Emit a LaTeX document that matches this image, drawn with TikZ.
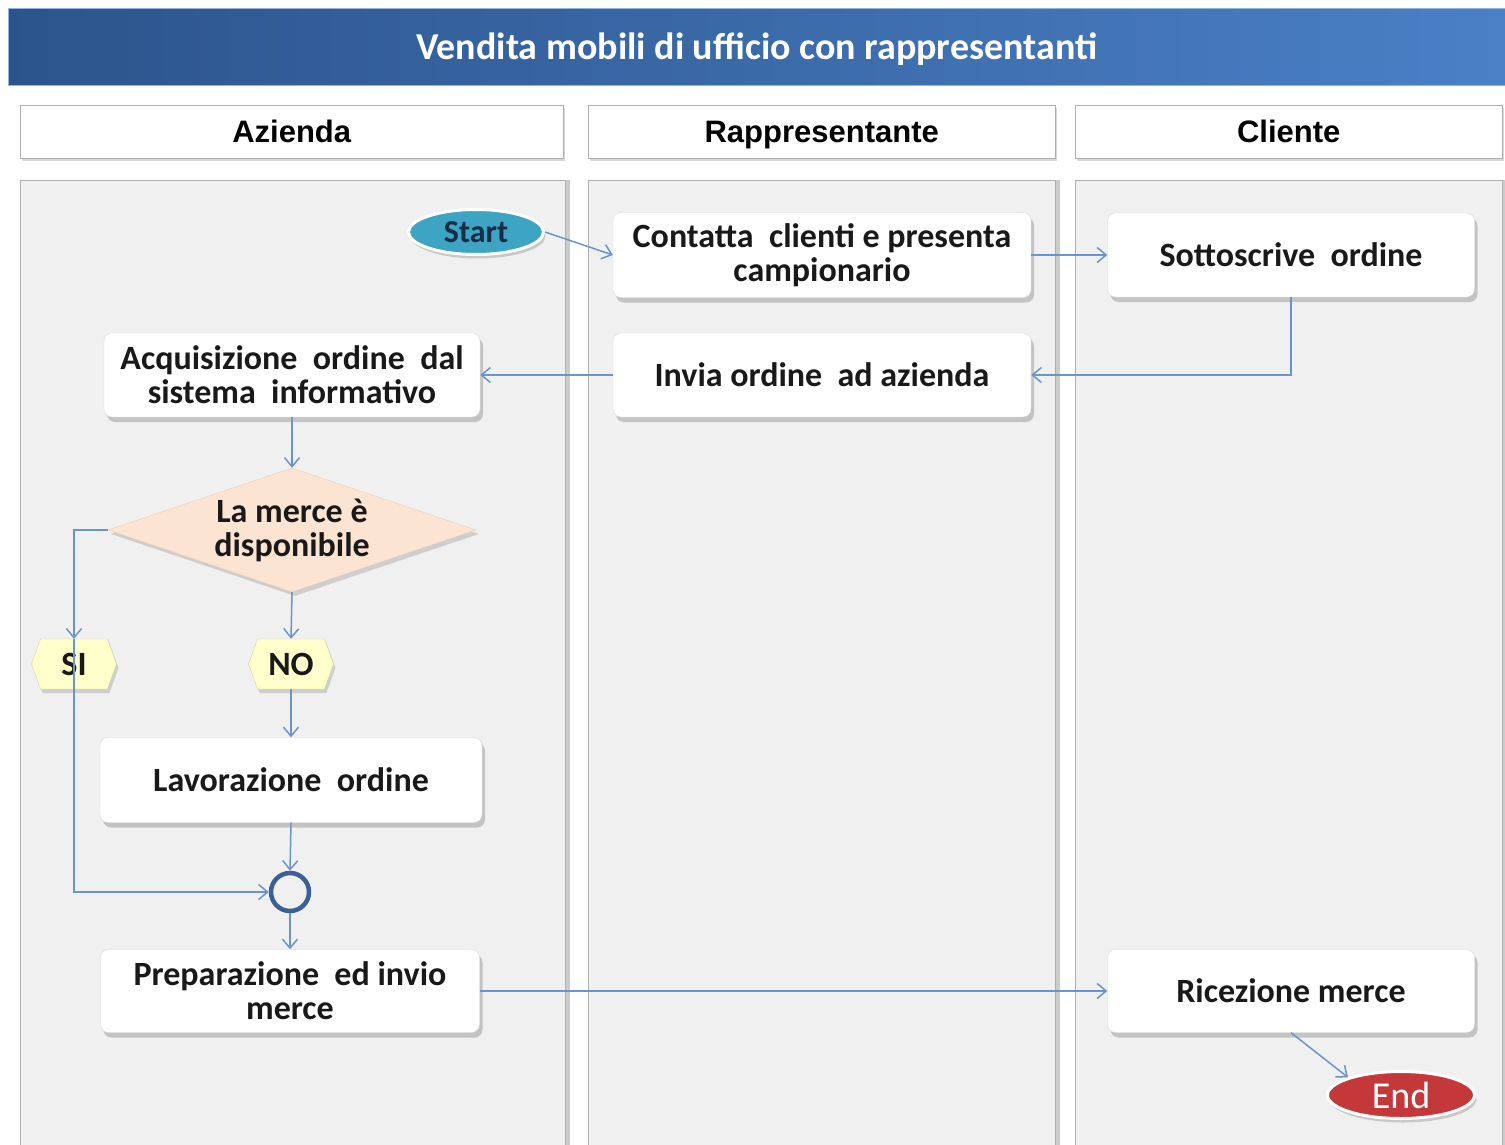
\documentclass[tikz,border=0pt]{standalone}
\usepackage{fontspec}
\setmainfont{Carlito}
\newfontfamily\headfont{Liberation Sans}
\usetikzlibrary{arrows.meta, shadows, shapes.geometric, shapes.symbols}

\definecolor{titleleft}{RGB}{44,84,140}
\definecolor{titleright}{RGB}{74,128,198}
\definecolor{lanefill}{RGB}{240,240,240}
\definecolor{laneline}{RGB}{175,175,175}
\definecolor{flowblue}{RGB}{108,148,204}
\definecolor{startfill}{RGB}{62,164,196}
\definecolor{startink}{RGB}{24,44,72}
\definecolor{endfill}{RGB}{196,56,58}
\definecolor{decfill}{RGB}{252,228,210}
\definecolor{decline}{RGB}{236,204,184}
\definecolor{tagfill}{RGB}{255,255,204}
\definecolor{tagline}{RGB}{215,215,150}
\definecolor{mergeblue}{RGB}{58,96,150}

\begin{document}
\begin{tikzpicture}
  [x=1pt, y=-1pt,
   titlebar/.style={rectangle, anchor=north west, minimum width=1497, minimum height=77,
                    left color=titleleft, right color=titleright, draw=titleright!60!white,
                    text height=26, text depth=0,
                    text=white, font=\bfseries\fontsize{38}{38}\selectfont},
   lanehead/.style={rectangle, anchor=north west, minimum height=53, draw=laneline,
                    fill=white, text height=22, text depth=0,
                    drop shadow={shadow xshift=2pt, shadow yshift=-3pt, opacity=.3},
                    font=\headfont\bfseries\fontsize{31}{31}\selectfont},
   lane/.style={rectangle, anchor=north west, minimum height=980, draw=laneline, fill=lanefill,
                drop shadow={shadow xshift=5pt, shadow yshift=0pt, opacity=.4}},
   box/.style={rectangle, rounded corners=8, draw=black!15, fill=white, align=center,
               inner sep=0, text=black!90,
               drop shadow={shadow xshift=3pt, shadow yshift=-5pt, opacity=.4},
               font=\bfseries\fontsize{34}{34}\selectfont},
   terminal/.style={ellipse, draw=white, line width=3, inner sep=0,
                    drop shadow={shadow xshift=2pt, shadow yshift=-4pt, opacity=.35}},
   decision/.style={diamond, aspect=3, draw=decline, fill=decfill, inner sep=0, align=center,
                    minimum width=368, minimum height=124, text=black!90,
                    drop shadow={shadow xshift=3pt, shadow yshift=-4pt, opacity=.3},
                    font=\bfseries\fontsize{34}{34}\selectfont},
   tag/.style={signal, signal to=west and east, signal pointer angle=140, draw=tagline,
               fill=tagfill, minimum width=85, minimum height=50, inner sep=0, text=black!90,
               drop shadow={shadow xshift=2pt, shadow yshift=-4pt, opacity=.3},
               font=\bfseries\fontsize{34}{34}\selectfont},
   flow/.style={draw=flowblue, line width=1.5, -{Straight Barb[length=9pt, width=15pt]}}]

  \useasboundingbox [fill=white] (0,0) rectangle (1505,1145);

  % Titolo e corsie
  \node (title) at (8,8) [titlebar] {Vendita mobili di ufficio con rappresentanti};
  \node (headA) at (20,105) [lanehead, minimum width=543] {Azienda};
  \node (headR) at (588,105) [lanehead, minimum width=467] {Rappresentante};
  \node (headC) at (1075,105) [lanehead, minimum width=427] {Cliente};
  \node (laneA) at (20,180) [lane, minimum width=545] {};
  \node (laneR) at (588,180) [lane, minimum width=467] {};
  \node (laneC) at (1075,180) [lane, minimum width=427] {};

  % Nodi
  \node (start) at (476,232) [terminal, fill=startfill, minimum width=135, minimum height=45,
        text=startink, font=\bfseries\fontsize{32}{32}\selectfont] {Start};
  \node (contatta) at (822,255) [box, minimum width=418, minimum height=85]
        {Contatta\ \ clienti e presenta\\campionario};
  \node (sottoscrive) at (1291,255) [box, minimum width=367, minimum height=84]
        {Sottoscrive\ \ ordine};
  \node (invia) at (822,375) [box, minimum width=418, minimum height=84]
        {Invia ordine\ \ ad azienda};
  \node (acquisizione) at (292,375) [box, minimum width=376, minimum height=84]
        {Acquisizione\ \ ordine\ \ dal\\sistema\ \ informativo};
  \node (disp) at (292,530) [decision] {La merce è\\disponibile};
  \node (si) at (74,664) [tag] {SI};
  \node (no) at (291,664) [tag] {NO};
  \node (lavorazione) at (291,780) [box, minimum width=382, minimum height=85]
        {Lavorazione\ \ ordine};
  \node (merge) at (290,892) [circle, draw=mergeblue, line width=4.5, minimum size=38, inner sep=0] {};
  \node (preparazione) at (290,991) [box, minimum width=379, minimum height=83]
        {Preparazione\ \ ed invio\\merce};
  \node (ricezione) at (1291,991) [box, minimum width=367, minimum height=83]
        {Ricezione merce};
  \node (fine) at (1401,1095) [terminal, fill=endfill, minimum width=147, minimum height=47,
        text=white, font=\fontsize{38}{38}\selectfont] {End};

  % Collegamenti
  \draw [flow] (start.east) -- (contatta.west);
  \draw [flow] (contatta.east) -- (sottoscrive.west);
  \draw [flow] (sottoscrive.south) |- (invia.east);
  \draw [flow] (invia.west) -- (acquisizione.east);
  \draw [flow] (acquisizione.south) -- (disp.north);
  \draw [flow] (disp.west) -| (si.north);
  \draw [flow] (disp.south) -- (no.north);
  \draw [flow] (no.south) -- (lavorazione.north);
  \draw [flow] (lavorazione.south) -- (merge.north);
  \draw [flow] (si.north) |- (merge.west);
  \draw [flow] (merge.south) -- (preparazione.north);
  \draw [flow] (preparazione.east) -- (ricezione.west);
  \draw [flow] (ricezione.south) -- (fine.north west);

\end{tikzpicture}
\end{document}
